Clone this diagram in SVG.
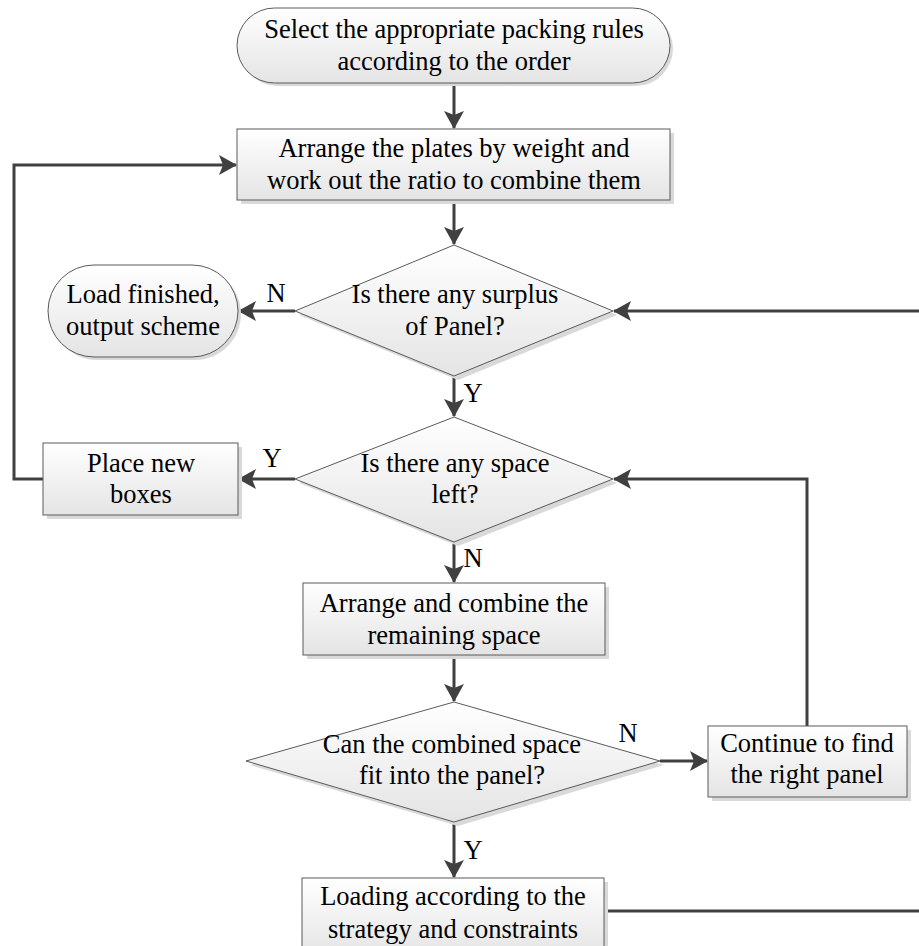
<svg xmlns="http://www.w3.org/2000/svg" width="919" height="946" viewBox="0 0 919 946">
<defs>
<linearGradient id="g" x1="0" y1="0" x2="0" y2="1">
<stop offset="0" stop-color="#ffffff"/>
<stop offset="1" stop-color="#e4e4e4"/>
</linearGradient>
<marker id="arr" markerUnits="userSpaceOnUse" markerWidth="18" markerHeight="20" viewBox="0 0 18 20" refX="17" refY="10" orient="auto">
<path d="M0,0 L18,10 L0,20 L4,10 Z" fill="#404040"/>
</marker>
<style>
.n{fill:url(#g);stroke:#5a5a5a;stroke-width:1}
.s{fill:#d9d9d9;stroke:none}
text{font-family:"Liberation Serif","Times New Roman",serif;font-size:26.5px;fill:#000;text-anchor:middle}
.c{fill:none;stroke:#404040;stroke-width:3}
.a{marker-end:url(#arr)}
</style>
</defs>
<rect width="919" height="946" fill="#fff"/>
<g id="connectors">
<line class="c a" x1="454" y1="83" x2="454" y2="128"/>
<line class="c a" x1="454" y1="200" x2="454" y2="244"/>
<line class="c a" x1="295" y1="311" x2="239" y2="311"/>
<line class="c a" x1="454" y1="376" x2="454" y2="416"/>
<line class="c a" x1="295" y1="479" x2="239" y2="479"/>
<polyline class="c a" points="43,479 14,479 14,165 236,165"/>
<line class="c a" x1="454" y1="542" x2="454" y2="582"/>
<line class="c a" x1="454" y1="655" x2="454" y2="701"/>
<line class="c a" x1="660" y1="761" x2="707" y2="761"/>
<polyline class="c a" points="807,726 807,479 614,479"/>
<line class="c a" x1="454" y1="822" x2="454" y2="877"/>
<polyline class="c a" points="604,911 930,911 930,311 614,311"/>
<text x="276" y="302">N</text>
<text x="272" y="467">Y</text>
<text x="473" y="402">Y</text>
<text x="473" y="567">N</text>
<text x="628" y="742">N</text>
<text x="473" y="859">Y</text>
</g>
<g id="start">
<rect class="s" x="240" y="11" width="433" height="75" rx="37.5"/>
<rect class="n" x="237" y="8" width="433" height="75" rx="37.5"/>
<text x="454" y="38">Select the appropriate packing rules</text>
<text x="454" y="70">according to the order</text>
</g>
<g id="arrange">
<rect class="s" x="241" y="133" width="433" height="71"/>
<rect class="n" x="237" y="129" width="433" height="71"/>
<text x="454" y="157">Arrange the plates by weight and</text>
<text x="454" y="189">work out the ratio to combine them</text>
</g>
<g id="surplus">
<polygon class="s" points="458,249 617,315 458,380 299,315"/>
<polygon class="n" points="454,245 613,311 454,376 295,311"/>
<text x="455" y="303">Is there any surplus</text>
<text x="455" y="335">of Panel?</text>
</g>
<g id="finished">
<rect class="s" x="51" y="268" width="190" height="92" rx="46"/>
<rect class="n" x="48" y="265" width="190" height="92" rx="46"/>
<text x="143" y="303">Load finished,</text>
<text x="143" y="335">output scheme</text>
</g>
<g id="space">
<polygon class="s" points="458,421 617,483 458,546 299,483"/>
<polygon class="n" points="454,417 613,479 454,542 295,479"/>
<text x="455" y="472">Is there any space</text>
<text x="455" y="503">left?</text>
</g>
<g id="place">
<rect class="s" x="47" y="447" width="195" height="72"/>
<rect class="n" x="43" y="443" width="195" height="72"/>
<text x="141" y="472">Place new</text>
<text x="141" y="503">boxes</text>
</g>
<g id="combine">
<rect class="s" x="307" y="587" width="302" height="72"/>
<rect class="n" x="303" y="583" width="302" height="72"/>
<text x="454" y="612">Arrange and combine the</text>
<text x="454" y="644">remaining space</text>
</g>
<g id="fit">
<polygon class="s" points="458,706 664,765 458,826 250,765"/>
<polygon class="n" points="454,702 660,761 454,822 246,761"/>
<text x="452" y="753">Can the combined space</text>
<text x="452" y="784">fit into the panel?</text>
</g>
<g id="continue">
<rect class="s" x="712" y="730" width="199" height="71"/>
<rect class="n" x="708" y="726" width="199" height="71"/>
<text x="807" y="752">Continue to find</text>
<text x="807" y="783">the right panel</text>
</g>
<g id="loading">
<rect class="s" x="306" y="882" width="302" height="80"/>
<rect class="n" x="302" y="878" width="302" height="80"/>
<text x="453" y="905">Loading according to the</text>
<text x="453" y="938">strategy and constraints</text>
</g>
</svg>
